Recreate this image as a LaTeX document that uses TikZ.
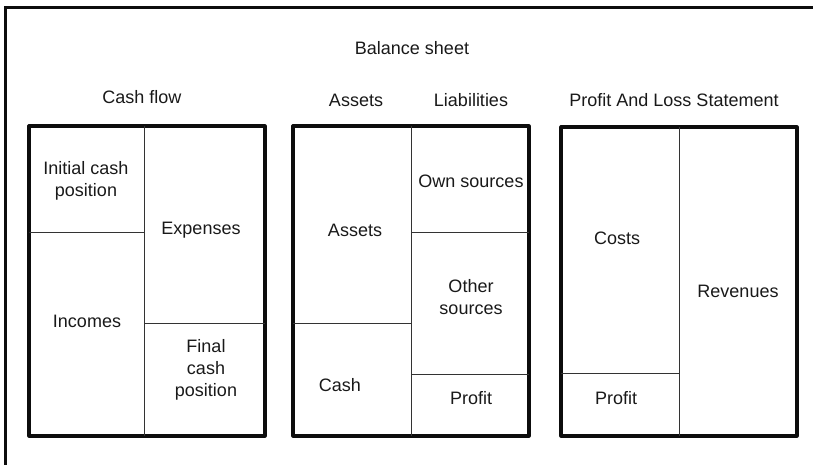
\documentclass[tikz,border=0pt]{standalone}
\usepackage{fontspec}
\setmainfont{Liberation Sans}
\begin{document}
\begin{tikzpicture}[x=1pt,y=-1pt,
  lbl/.style={inner sep=0pt,align=center,font=\fontsize{18}{22}\selectfont,text=black!90},
  frame/.style={line width=3pt,draw=black!95},
  heavy/.style={line width=3.2pt,draw=black!95,line join=round},
  thin/.style={line width=1pt,draw=black!80}]
\useasboundingbox (0,0) rectangle (813,465);
% outer frame (cropped)
\coordinate (fbl) at (5,470);
\coordinate (ftl) at (5,8);
\coordinate (ftr) at (818,8);
\draw[frame] (fbl) -- (ftl) -- (ftr);
% Cash flow
\draw[heavy] (29,126) rectangle (265,436);
\draw[thin] (144,126) -- (144,436);
\draw[thin] (29,232) -- (144,232);
\draw[thin] (144,323) -- (265,323);
\node[lbl] (cf) at (142,97) {Cash flow};
\node[lbl] (init) at (86,181) {Initial cash\\position};
\node[lbl] (exp) at (201,230) {Expenses};
\node[lbl] (inc) at (87,321) {Incomes};
\node[lbl] (fin) at (206,370) {Final\\cash\\position};
% Balance sheet
\draw[heavy] (293,126) rectangle (529,436);
\draw[thin] (411,126) -- (411,436);
\draw[thin] (293,323) -- (411,323);
\draw[thin] (411,232) -- (529,232);
\draw[thin] (411,374) -- (529,374);
\node[lbl] (bs) at (412,48) {Balance sheet};
\node[lbl] (ah) at (356,100) {Assets};
\node[lbl] (lh) at (471,100) {Liabilities};
\node[lbl] (own) at (471,181) {Own sources};
\node[lbl] (ast) at (355,230) {Assets};
\node[lbl] (oth) at (471,297) {Other\\sources};
\node[lbl] (cash) at (340,385) {Cash};
\node[lbl] (bp) at (471,398) {Profit};
% P&L
\draw[heavy] (561,127) rectangle (797,436);
\draw[thin] (679,127) -- (679,436);
\draw[thin] (561,373) -- (679,373);
\node[lbl] (pl) at (674,100) {Profit And Loss Statement};
\node[lbl] (cost) at (617,238) {Costs};
\node[lbl] (rev) at (738,291) {Revenues};
\node[lbl] (pp) at (616,398) {Profit};
\end{tikzpicture}
\end{document}
